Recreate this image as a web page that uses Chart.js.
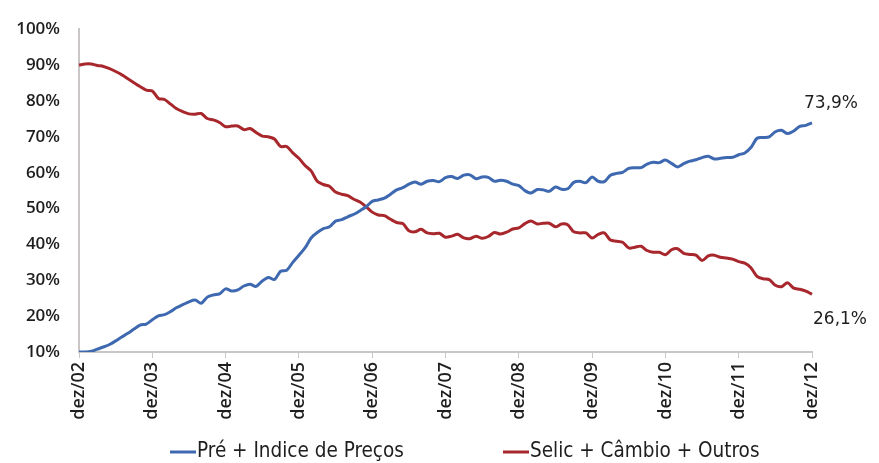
<!DOCTYPE html>
<html>
<head>
<meta charset="utf-8">
<script src="https://cdn.jsdelivr.net/npm/chart.js@4"></script>
<style>
    html, body { margin: 0; padding: 0; background: #fff; }
    #box { width: 879px; height: 463px; }
</style>
</head>
<body>
<div id="box"><canvas id="mixChart"></canvas></div>
<script>
// monthly, dez/02 .. dez/12
const monthNames = ["jan", "fev", "mar", "abr", "mai", "jun", "jul", "ago", "set", "out", "nov", "dez"];
const firstYear = 2002;
const monthCount = 121;

const seriesNames = ["Pré + Indice de Preços", "Selic + Câmbio + Outros"];

const preIndice = [
    10.0, 10.0, 10.2, 10.8, 11.4, 12.1, 13.1, 14.2, 15.2, 16.4, 17.5, 17.8,
    19.0, 20.1, 20.4, 21.3, 22.4, 23.2, 24.0, 24.5, 23.6, 25.3, 25.9, 26.2,
    27.6, 27.0, 27.3, 28.4, 28.9, 28.3, 29.8, 30.8, 30.2, 32.5, 32.8, 35.0,
    37.0, 39.0, 41.8, 43.3, 44.4, 44.9, 46.5, 46.9, 47.7, 48.4, 49.4, 50.5,
    52.0, 52.4, 52.9, 54.0, 55.2, 55.8, 56.8, 57.4, 56.8, 57.6, 57.8, 57.5,
    58.6, 58.9, 58.4, 59.3, 59.4, 58.3, 58.8, 58.7, 57.6, 57.9, 57.6, 56.8,
    56.4, 55.0, 54.3, 55.3, 55.2, 54.8, 56.0, 55.4, 55.5, 57.3, 57.6, 57.2,
    58.8, 57.6, 57.5, 59.3, 59.8, 60.1, 61.2, 61.4, 61.4, 62.4, 62.9, 62.8,
    63.5, 62.6, 61.6, 62.5, 63.2, 63.6, 64.2, 64.6, 63.8, 64.0, 64.2, 64.3,
    65.0, 65.5, 67.0, 69.6, 69.8, 70.0, 71.4, 71.8, 70.9, 71.6, 72.9, 73.2,
    73.9
];

const selicCambio = [
    90.0, 90.3, 90.3, 89.9, 89.6, 89.0, 88.2, 87.3, 86.2, 85.1, 84.0, 83.0,
    82.8, 80.7, 80.4, 79.1, 77.8, 77.0, 76.4, 76.3, 76.5, 75.1, 74.7, 74.0,
    72.8, 73.0, 73.0, 72.0, 72.3, 71.2, 70.2, 70.0, 69.4, 67.3, 67.3, 65.5,
    64.0, 62.0, 60.5, 57.6, 56.7, 56.2, 54.6, 54.0, 53.6, 52.6, 51.8, 50.5,
    49.0, 48.2, 48.0, 47.0, 46.1, 45.8, 43.8, 43.5, 44.2, 43.2, 43.0, 43.1,
    42.0, 42.3, 42.8, 41.8, 41.6, 42.3, 41.7, 42.2, 43.3, 42.9, 43.4, 44.3,
    44.6, 45.8, 46.5, 45.7, 45.9, 45.9, 44.9, 45.7, 45.5, 43.5, 43.2, 43.2,
    41.8, 42.8, 43.2, 41.2, 40.9, 40.6, 39.0, 39.2, 39.5, 38.3, 37.8, 37.8,
    37.1, 38.5, 38.8, 37.5, 37.2, 37.0, 35.5, 36.8, 37.0, 36.4, 36.2, 35.9,
    35.2, 34.8, 33.5, 31.1, 30.4, 30.2, 28.6, 28.2, 29.3, 27.8, 27.5, 27.0,
    26.1
];

const yTicks = [10, 20, 30, 40, 50, 60, 70, 80, 90, 100];

const blue = "#3e69b0";
const red = "#a8272c";
const axisGray = "#cbc6c6";
const textColor = "#1e1e1e";

// labels "dez/02", "jan/03", ...
let labels = [];
for (let i = 0; i < monthCount; i++) {
    let m = (11 + i) % 12;
    let y = firstYear + Math.floor((11 + i) / 12);
    labels.push(monthNames[m] + "/" + String(y % 100).padStart(2, "0"));
}

function pct(v) {
    return v.toFixed(1).replace(".", ",") + "%";
}

// end value labels next to the last point of each line
const endLabels = {
    id: "endLabels",
    afterDatasetsDraw(chart) {
        let ctx = chart.ctx;
        let offsets = [[19, -19], [28, 25]];
        ctx.save();
        ctx.font = "17px 'DejaVu Sans', Verdana, sans-serif";
        ctx.fillStyle = textColor;
        ctx.textAlign = "center";
        ctx.textBaseline = "middle";
        chart.data.datasets.forEach((ds, i) => {
            let pt = chart.getDatasetMeta(i).data[ds.data.length - 1];
            let v = ds.data[ds.data.length - 1];
            ctx.fillText(pct(v), pt.x + offsets[i][0], pt.y + offsets[i][1]);
        });
        ctx.restore();
    }
};

// legend drawn by hand so that the gap between items matches
const bottomLegend = {
    id: "bottomLegend",
    afterDraw(chart) {
        let ctx = chart.ctx;
        let starts = [170, 503];
        let y = 452;
        ctx.save();
        ctx.font = "20.5px 'DejaVu Sans Condensed', 'Open Sans', sans-serif";
        ctx.textBaseline = "middle";
        chart.data.datasets.forEach((ds, i) => {
            let x = starts[i];
            ctx.strokeStyle = ds.borderColor;
            ctx.lineWidth = 3;
            ctx.beginPath();
            ctx.moveTo(x, y);
            ctx.lineTo(x + 26, y);
            ctx.stroke();
            ctx.fillStyle = textColor;
            ctx.fillText(ds.label, x + 27, y);
        });
        ctx.restore();
    }
};

let ctx = document.getElementById("mixChart").getContext("2d");

new Chart(ctx, {
    type: "line",
    data: {
        labels: labels,
        datasets: [{
            label: seriesNames[0],
            data: preIndice,
            borderColor: blue,
            borderWidth: 3,
            pointRadius: 0,
            tension: 0.3,
            fill: false
        }, {
            label: seriesNames[1],
            data: selicCambio,
            borderColor: red,
            borderWidth: 3,
            pointRadius: 0,
            tension: 0.3,
            fill: false
        }]
    },
    options: {
        responsive: true,
        maintainAspectRatio: false,
        animation: false,
        layout: {
            padding: {left: 0, right: 67, top: 27, bottom: 40}
        },
        plugins: {
            legend: {display: false},
            tooltip: {enabled: false}
        },
        scales: {
            x: {
                offset: false,
                grid: {
                    display: true,
                    drawOnChartArea: false,
                    drawTicks: true,
                    tickLength: 6,
                    color: c => (c.index % 12 === 0 ? axisGray : "rgba(0,0,0,0)")
                },
                border: {display: true, color: axisGray, width: 2},
                ticks: {
                    autoSkip: false,
                    maxRotation: 90,
                    minRotation: 90,
                    padding: 4,
                    color: textColor,
                    font: {family: "'Open Sans', sans-serif", size: 18, weight: "600"},
                    callback: function (value, index) {
                        return index % 12 === 0 ? labels[index] : "";
                    }
                },
                afterFit: scale => { scale.height = 71; }
            },
            y: {
                min: yTicks[0],
                max: yTicks[yTicks.length - 1],
                grid: {display: false, drawTicks: false},
                border: {display: true, color: axisGray, width: 2},
                afterBuildTicks: scale => {
                    scale.ticks = yTicks.map(v => ({value: v}));
                },
                ticks: {
                    padding: 19,
                    color: textColor,
                    font: {family: "'Open Sans', sans-serif", size: 17, weight: "600"},
                    callback: v => v + "%"
                },
                afterFit: scale => { scale.width = 79; }
            }
        }
    },
    plugins: [endLabels, bottomLegend]
});
</script>
</body>
</html>
